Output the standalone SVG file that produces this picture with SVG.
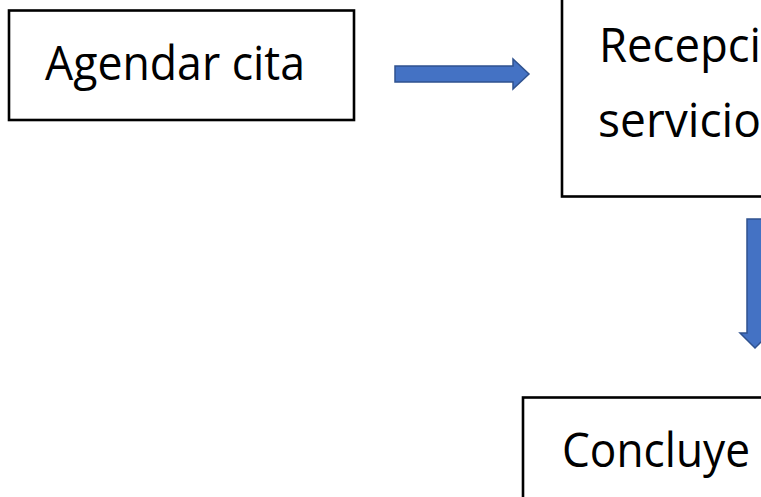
<svg xmlns="http://www.w3.org/2000/svg" width="761" height="497" viewBox="0 0 761 497">
<style>
.box{fill:#fff;stroke:#000;stroke-width:2.6}
.lbl{font-family:"Open Sans","Noto Sans","DejaVu Sans",sans-serif;font-size:47px;fill:#000}
.arr{fill:#4472C4;stroke:#2F528F;stroke-width:1.5;stroke-linejoin:miter}
</style>
<rect width="761" height="497" fill="#fff"/>
<g id="node-agendar">
<rect class="box" x="9" y="10.5" width="345" height="109.5"/>
<text class="lbl" x="45" y="80" textLength="260" lengthAdjust="spacingAndGlyphs">Agendar cita</text>
</g>
<g id="node-recepcion">
<rect class="box" x="562" y="-20" width="230" height="216.5"/>
<text class="lbl" x="599" y="62" textLength="162" lengthAdjust="spacingAndGlyphs">Recepci</text>
<text class="lbl" x="598" y="137" textLength="163" lengthAdjust="spacingAndGlyphs">servicio</text>
</g>
<g id="node-concluye">
<rect class="box" x="523" y="397.5" width="260" height="120"/>
<text class="lbl" x="562" y="467" textLength="188" lengthAdjust="spacingAndGlyphs">Concluye</text>
</g>
<g id="connectors">
<path class="arr" d="M395,66 L513,66 L513,59 L529,74 L513,89 L513,82 L395,82 Z"/>
<path class="arr" d="M747,219 L763,219 L763,333 L770,333 L755,348 L740,333 L747,333 Z"/>
</g>
</svg>
